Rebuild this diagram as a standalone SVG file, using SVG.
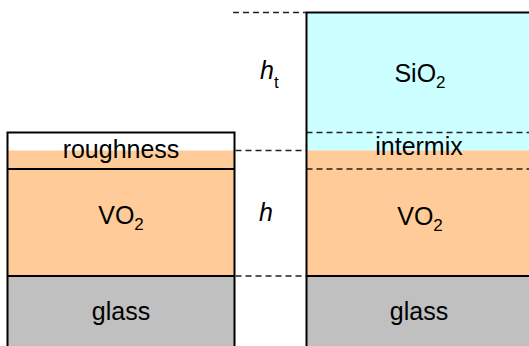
<svg xmlns="http://www.w3.org/2000/svg" width="529" height="346" viewBox="0 0 529 346">
<style>
.t{font-family:"Liberation Sans",Arial,sans-serif;font-size:25px;fill:#000;text-anchor:middle}
.s{font-size:17px}
.i{font-family:"Liberation Sans",Arial,sans-serif;font-style:italic;font-size:25px;fill:#000}
.solid{stroke:#000;stroke-width:2;fill:none}
.dash{stroke:#222;stroke-width:1.5;stroke-dasharray:6 4;fill:none}
</style>
<rect width="529" height="346" fill="#fff"/>
<g id="left-stack">
  <rect x="7.5" y="132.5" width="227" height="18" fill="#fff"/>
  <rect x="7.5" y="150.5" width="227" height="125.5" fill="#FFCC99"/>
  <rect x="7.5" y="276" width="227" height="72" fill="#C0C0C0"/>
  <line class="solid" x1="7.5" y1="169" x2="234.5" y2="169"/>
  <line class="solid" x1="7.5" y1="276" x2="234.5" y2="276"/>
  <path class="solid" d="M7.5,348 V132.5 H234.5 V348"/>
  <text class="t" x="121" y="157.5">roughness</text>
  <text class="t" x="121" y="224">VO<tspan class="s" dy="6">2</tspan></text>
  <text class="t" x="121" y="320">glass</text>
</g>
<g id="right-stack">
  <rect x="306.5" y="12.5" width="230" height="138" fill="#CCFFFF"/>
  <rect x="306.5" y="150.5" width="230" height="125.5" fill="#FFCC99"/>
  <rect x="306.5" y="276" width="230" height="72" fill="#C0C0C0"/>
  <line class="dash" x1="306.5" y1="132.5" x2="529" y2="132.5"/>
  <line class="dash" x1="306.5" y1="169" x2="529" y2="169"/>
  <line class="solid" x1="306.5" y1="276" x2="531" y2="276"/>
  <path class="solid" d="M306.5,348 V12.5 H531"/>
  <text class="t" x="420" y="82">SiO<tspan class="s" dy="6">2</tspan></text>
  <text class="t" x="419" y="155">intermix</text>
  <text class="t" x="420" y="225">VO<tspan class="s" dy="6">2</tspan></text>
  <text class="t" x="419" y="320">glass</text>
</g>
<g id="connectors">
  <line class="dash" x1="233" y1="12.5" x2="306.5" y2="12.5"/>
  <line class="dash" x1="235.5" y1="150.5" x2="306.5" y2="150.5"/>
  <line class="dash" x1="235.5" y1="276" x2="306.5" y2="276"/>
</g>
<g id="labels">
  <text class="i" x="260" y="79">h<tspan font-style="normal" font-size="17" dy="9">t</tspan></text>
  <text class="i" x="259" y="221">h</text>
</g>
</svg>
